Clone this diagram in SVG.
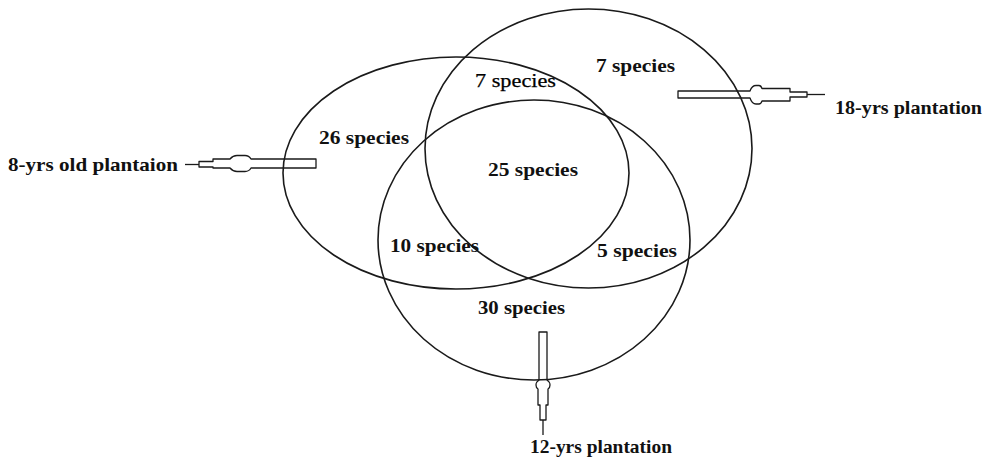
<svg xmlns="http://www.w3.org/2000/svg" width="989" height="459" viewBox="0 0 989 459">
<style>
.set{fill:none;stroke:#1a1a1a;stroke-width:1.6}
.arr{fill:none;stroke:#1a1a1a;stroke-width:1.3;stroke-linejoin:round}
.t{font-family:"Liberation Serif","Times New Roman",serif;font-weight:bold;font-size:19px;fill:#111}
.r{font-weight:normal;fill:#000;stroke:#000;stroke-width:0.25}
</style>
<rect width="989" height="459" fill="#fff"/>
<g id="connectors">
<g id="arrow-8yrs">
<path class="arr" d="M185,164.5 H199"/>
<path class="arr" d="M199,161.5 L213,161.5 L213,159 L230,159 Q233,155.5 237,155.5 L245,155.5 Q249,155.5 251,159 L316,159 L316,168 L251,168 Q249,171.5 245,171.5 L237,171.5 Q233,171.5 230,168 L213,168 L213,167 L199,167 Z"/>
</g>
<g id="arrow-18yrs">
<path class="arr" d="M678,91 L750,91 Q752,85.5 756,85.5 L759,85.5 Q761,85.5 762,88.5 L790,88.5 L790,92 L807,92 L807,97 L790,97 L790,101 L762,101 Q761,104 759,104 L756,104 Q752,104 750,98 L678,98 Z"/>
<path class="arr" d="M807,94.5 H825"/>
</g>
<g id="arrow-12yrs">
<path class="arr" d="M539,332 L547,332 L547,380 Q550,382 550,385 Q550,388 548,389 L548,405 L546,405 L546,420 L540,420 L540,405 L538,405 L538,389 Q536,388 536,385 Q536,382 539,380 Z"/>
<path class="arr" d="M543,420 V435"/>
</g>
</g>
<g id="set-8yrs">
<ellipse class="set" cx="456" cy="173" rx="173" ry="116"/>
<text class="t" x="8" y="171" textLength="170" lengthAdjust="spacingAndGlyphs">8-yrs old plantaion</text>
</g>
<g id="set-18yrs">
<ellipse class="set" cx="588.5" cy="148.5" rx="163.5" ry="139.5"/>
<text class="t" x="835" y="114" textLength="147" lengthAdjust="spacingAndGlyphs">18-yrs plantation</text>
</g>
<g id="set-12yrs">
<ellipse class="set" cx="534" cy="240" rx="156" ry="140"/>
<text class="t" x="530" y="453" textLength="142" lengthAdjust="spacingAndGlyphs">12-yrs plantation</text>
</g>
<g id="region-labels">
<text class="t" x="319" y="144" textLength="90" lengthAdjust="spacingAndGlyphs">26 species</text>
<text class="t r" x="475" y="87" textLength="81" lengthAdjust="spacingAndGlyphs">7 species</text>
<text class="t" x="596" y="72" textLength="79" lengthAdjust="spacingAndGlyphs">7 species</text>
<text class="t" x="488" y="176" textLength="90" lengthAdjust="spacingAndGlyphs">25 species</text>
<text class="t" x="390" y="252" textLength="89" lengthAdjust="spacingAndGlyphs">10 species</text>
<text class="t" x="597" y="257" textLength="80" lengthAdjust="spacingAndGlyphs">5 species</text>
<text class="t" x="478" y="314" textLength="87" lengthAdjust="spacingAndGlyphs">30 species</text>
</g>
</svg>
